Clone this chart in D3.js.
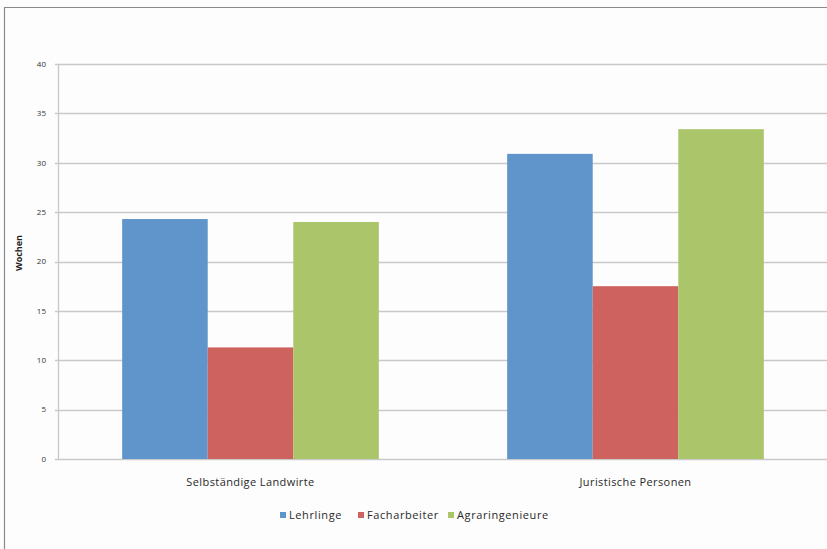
<!DOCTYPE html>
<html>
<head>
<meta charset="utf-8">
<script src="https://d3js.org/d3.v7.min.js"></script>
<style>
  body { margin: 0; background: #fff; }
  svg { display: block; font-family: "Open Sans", Lato, sans-serif; }
</style>
</head>
<body>
<div id="chart"></div>
<script>
// data
var categories = ["Selbständige Landwirte", "Juristische Personen"];
var series = ["Lehrlinge", "Facharbeiter", "Agraringenieure"];
var lehrlinge = [24.3, 30.9];
var facharbeiter = [11.3, 17.5];
var agraringenieure = [24.0, 33.4];
var yTicks = [0, 5, 10, 15, 20, 25, 30, 35, 40];
var colors = ["#5f95cb", "#cd625e", "#abc56b"];

var values = [lehrlinge, facharbeiter, agraringenieure];

var w = 827, h = 549;
var plotL = 58, plotR = 828, plotT = 64, plotB = 459;

var svg = d3.select("#chart").append("svg")
  .attr("width", w)
  .attr("height", h);

svg.append("rect")
  .attr("width", w).attr("height", h)
  .attr("fill", "#fdfdfd");

// outer frame (left + top edges only show)
svg.append("path")
  .attr("d", "M4.5,549 V7.5 H827")
  .attr("fill", "none")
  .attr("stroke", "#8a8a8a")
  .attr("stroke-width", 1.2);

var y = d3.scaleLinear().domain([0, 40]).range([plotB, plotT]);
var x0 = d3.scaleBand().domain(categories).range([plotL, plotR]).padding(0);
var x1 = d3.scaleBand().domain(series).range([0, x0.bandwidth()])
  .paddingInner(0).paddingOuter(0.75);

// gridlines
svg.append("g").selectAll("line")
  .data(yTicks)
  .enter().append("line")
  .attr("x1", plotL - 3)
  .attr("x2", w)
  .attr("y1", function(d) { return Math.round(y(d)) + 0.5; })
  .attr("y2", function(d) { return Math.round(y(d)) + 0.5; })
  .attr("stroke", "#c9c9c9")
  .attr("stroke-width", 1.3);

// y axis line
svg.append("line")
  .attr("x1", plotL + 0.5).attr("x2", plotL + 0.5)
  .attr("y1", plotT).attr("y2", plotB + 1)
  .attr("stroke", "#c9c9c9")
  .attr("stroke-width", 1.3);

// y labels
svg.append("g").selectAll("text")
  .data(yTicks)
  .enter().append("text")
  .attr("x", 46)
  .attr("y", function(d) { return y(d); })
  .attr("dy", "0.35em")
  .attr("text-anchor", "end")
  .attr("font-size", 8)
  .attr("fill", "#333")
  .text(function(d) { return d; });

svg.append("text")
  .attr("transform", "translate(19," + 253 + ") rotate(-90)")
  .attr("text-anchor", "middle")
  .attr("dy", "0.35em")
  .attr("font-size", 9)
  .attr("font-weight", "bold")
  .attr("fill", "#222")
  .text("Wochen");

// bars
var groups = svg.append("g").selectAll("g")
  .data(categories)
  .enter().append("g")
  .attr("transform", function(d) { return "translate(" + x0(d) + ",0)"; });

groups.selectAll("rect")
  .data(function(d, i) {
    return series.map(function(s, j) { return { s: s, v: values[j][i], c: colors[j] }; });
  })
  .enter().append("rect")
  .attr("x", function(d) { return x1(d.s); })
  .attr("width", x1.bandwidth())
  .attr("y", function(d) { return y(d.v); })
  .attr("height", function(d) { return plotB - y(d.v); })
  .attr("fill", function(d) { return d.c; });

// category labels
svg.append("g").selectAll("text")
  .data(categories)
  .enter().append("text")
  .attr("x", function(d) { return x0(d) + x0.bandwidth() / 2; })
  .attr("y", 482)
  .attr("dy", "0.35em")
  .attr("text-anchor", "middle")
  .attr("font-size", 11)
  .attr("letter-spacing", 0.4)
  .attr("fill", "#2a2a2a")
  .text(function(d) { return d; });

// legend
var legendX = [280, 358, 448];
var legend = svg.append("g").selectAll("g")
  .data(series)
  .enter().append("g")
  .attr("transform", function(d, i) { return "translate(" + legendX[i] + ",515)"; });

legend.append("rect")
  .attr("x", 0).attr("y", -3)
  .attr("width", 6).attr("height", 6)
  .attr("fill", function(d, i) { return colors[i]; });

legend.append("text")
  .attr("x", 9)
  .attr("dy", "0.35em")
  .attr("font-size", 11)
  .attr("letter-spacing", 0.6)
  .attr("fill", "#2a2a2a")
  .text(function(d) { return d; });
</script>
</body>
</html>
